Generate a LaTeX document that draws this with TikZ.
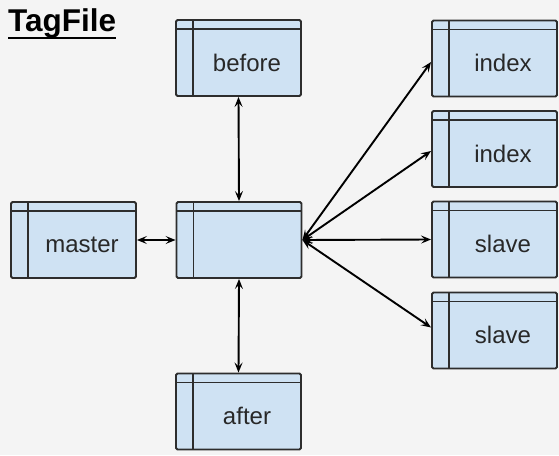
\documentclass[tikz,border=0pt]{standalone}
\usepackage{fontspec}
\setmainfont{Liberation Sans}
\usetikzlibrary{arrows.meta}
\definecolor{bgc}{RGB}{244,244,244}
\definecolor{boxc}{RGB}{207,226,243}
\definecolor{linec}{RGB}{45,45,45}
\definecolor{txtc}{RGB}{40,40,40}
\tikzset{
  tbox/.style={draw=linec, fill=boxc, line width=1.9pt, rounded corners=1.5pt,
    minimum width=125pt, minimum height=76pt, inner sep=0pt,
    path picture={
      \draw[linec, line width=1.9pt]
        ([yshift=-9pt]path picture bounding box.north west) --
        ([yshift=-9pt]path picture bounding box.north east);
      \draw[linec, line width=1.9pt]
        ([xshift=17pt]path picture bounding box.north west) --
        ([xshift=17pt]path picture bounding box.south west);
    },
    label={[boxtext, shift={(8.5pt,-4.5pt)}]center:#1}},
  boxtext/.style={text=txtc, font=\fontsize{24}{28}\selectfont, inner sep=0pt},
  link/.style={draw=black, line width=1.9pt,
    {Stealth[length=10pt,width=8pt,inset=4pt]}-{Stealth[length=10pt,width=8pt,inset=4pt]}}
}
\begin{document}
\begin{tikzpicture}[x=1pt,y=-1pt]
  \fill[bgc] (0,0) rectangle (559,455);
  \useasboundingbox (0,0) rectangle (559,455);

  \node[anchor=base west, inner sep=0pt, text=black,
        font=\bfseries\fontsize{31.5}{34}\selectfont] (title) at (8,31) {TagFile};
  \draw[black, line width=2.6pt] ([yshift=-7pt]title.base west) -- ([yshift=-7pt]title.base east);

  \node[tbox=before] (before) at (238.5,58) {};
  \node[tbox=master] (master) at (73.5,240) {};
  \node[tbox={}]     (core)   at (239,240) {};
  \node[tbox=after]  (after)  at (238.5,411.5) {};
  \node[tbox=index]  (idxa)   at (494.5,58.5) {};
  \node[tbox=index]  (idxb)   at (494.5,149) {};
  \node[tbox=slave]  (slva)   at (494.5,239.5) {};
  \node[tbox=slave]  (slvb)   at (494.5,330.5) {};

  \draw[link] (before.south) -- (core.north);
  \draw[link] (core.south) -- (after.north);
  \draw[link] (master.east) -- (core.west);
  \draw[link] (core.east) -- ([yshift=-3.5pt]idxa.west);
  \draw[link] (core.east) -- ([yshift=-2pt]idxb.west);
  \draw[link] (core.east) -- (slva.west);
  \draw[link] (core.east) -- ([yshift=3pt]slvb.west);
\end{tikzpicture}
\end{document}
